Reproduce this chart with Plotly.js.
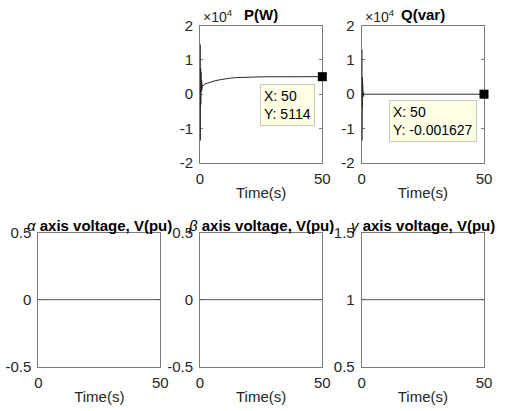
<!DOCTYPE html>
<html>
<head>
<meta charset="utf-8">
<script src="https://cdn.plot.ly/plotly-3.0.1.min.js"></script>
<style>html,body{margin:0;padding:0;background:#fff;}#chart{width:510px;height:411px;}</style>
</head>
<body>
<div id="chart"></div>
<script>
// ---- data ----
const timeP = [0,0.04,0.08,0.12,0.16,0.2,0.24,0.28,0.32,0.36,0.4,0.44,0.48,0.52,0.56,0.6,0.64,0.68,0.72,0.76,0.8,0.84,0.88,0.92,0.96,1.0,1.1,1.4,2,3,4,5,6,8,10,12,15,18,20,25,30,35,40,45,50];
const powerP = [0,14500,-13500,11000,-8500,9000,-5500,7500,-3000,6500,-1500,5500,-500,5000,200,4500,800,4000,1300,3600,1700,3200,2000,3000,2200,2700,2500,2750,2950,3200,3450,3700,3900,4200,4450,4650,4850,4960,5010,5070,5095,5106,5111,5113,5114];
const timeQ = [0,0.04,0.08,0.12,0.16,0.2,0.24,0.28,0.32,0.36,0.4,0.44,0.48,0.52,0.56,0.6,0.64,0.68,0.72,0.76,0.8,0.84,0.88,0.92,0.96,1.0,2,10,20,30,40,50];
const powerQ = [0,13000,-13500,10000,-9000,7000,-6000,5000,-4000,3500,-2800,2200,-1800,1400,-1100,900,-700,500,-400,300,-200,150,-100,60,-30,10,0,0,0,0,0,-0.001627];
const timeV = [0,6,6.5,7,7.5,50];
const vAlpha = [0,0,0.004,0.004,0,0];
const vBeta = [0,0,0,0,0,0];
const vGamma = [1,1,1.004,1.004,1,1];
const tipP = {x: 50, y: 5114};
const tipQ = {x: 50, y: -0.001627};
const pTicks = [-20000,-10000,0,10000,20000];
const pTickText = ["-2","-1","0","1","2"];
const xTicks = [0,50];
const xTickText = ["0","50"];
const abTicks = [-0.5,0,0.5];
const abTickText = ["-0.5","0","0.5"];
const gTicks = [0.5,1,1.5];
const gTickText = ["0.5","1","1.5"];

// ---- layout helpers ----
const W = 510, H = 411;
const px = v => v / W;
const py = v => 1 - v / H;
const cols = [[38.3,160.3],[200,322.3],[361.7,484]];
const rowTop = [25.7,162.7], rowBot = [232.7,366.7];
const fontFam = 'Liberation Sans, Arial, Helvetica, sans-serif';
const axisCol = '#7a7a7a', textCol = '#262626';

function xax(col, row, anchor) {
  return {
    anchor: anchor, layer: 'below traces',
    domain: [px(cols[col][0]), px(cols[col][1])],
    range: [0, 50], tickvals: xTicks, ticktext: xTickText,
    showline: true, mirror: 'ticks', linecolor: axisCol, linewidth: 1,
    ticks: 'inside', ticklen: 3, tickcolor: axisCol,
    showgrid: false, zeroline: false, fixedrange: true,
    tickfont: {family: fontFam, size: 15, color: textCol},
    ticklabelstandoff: 2,
    title: {text: 'Time(s)', font: {family: fontFam, size: 15, color: textCol}, standoff: 1},
    automargin: false
  };
}
function yax(col, row, range, vals, text, anchor) {
  const r = row === 0 ? rowTop : rowBot;
  return {
    anchor: anchor, layer: 'below traces',
    domain: [py(r[1]), py(r[0])],
    range: range, tickvals: vals, ticktext: text,
    showline: true, mirror: 'ticks', linecolor: axisCol, linewidth: 1,
    ticks: 'inside', ticklen: 3, tickcolor: axisCol,
    showgrid: false, zeroline: false, fixedrange: true,
    tickfont: {family: fontFam, size: 15, color: textCol},
    ticklabelstandoff: 3,
    automargin: false
  };
}

const lineP = {color: '#2a2a2a', width: 1};
const lineV = {color: '#555555', width: 1};
const data = [
  {x: timeP, y: powerP, xaxis: 'x', yaxis: 'y', mode: 'lines', line: lineP, hoverinfo: 'skip'},
  {x: [tipP.x], y: [tipP.y], xaxis: 'x', yaxis: 'y', mode: 'markers', marker: {symbol: 'square', size: 9, color: '#000'}, hoverinfo: 'skip', cliponaxis: false},
  {x: timeQ, y: powerQ, xaxis: 'x2', yaxis: 'y2', mode: 'lines', line: lineP, hoverinfo: 'skip'},
  {x: [tipQ.x], y: [tipQ.y], xaxis: 'x2', yaxis: 'y2', mode: 'markers', marker: {symbol: 'square', size: 9, color: '#000'}, hoverinfo: 'skip', cliponaxis: false},
  {x: timeV, y: vAlpha, xaxis: 'x3', yaxis: 'y3', mode: 'lines', line: lineV, hoverinfo: 'skip'},
  {x: timeV, y: vBeta, xaxis: 'x4', yaxis: 'y4', mode: 'lines', line: lineV, hoverinfo: 'skip'},
  {x: timeV, y: vGamma, xaxis: 'x5', yaxis: 'y5', mode: 'lines', line: lineV, hoverinfo: 'skip'}
];

const titleFont = {family: fontFam, size: 15, color: '#000'};
function titleAnn(col, yPix, text) {
  return {xref: 'paper', yref: 'paper', x: px((cols[col][0] + cols[col][1]) / 2), y: py(yPix),
          xanchor: 'center', yanchor: 'middle', showarrow: false, text: text, font: titleFont};
}
function expAnn(col) {
  return {xref: 'paper', yref: 'paper', x: px(cols[col][0] + 1), y: py(16), xanchor: 'left', yanchor: 'middle',
          showarrow: false, text: '×10<sup>4</sup>', font: {family: fontFam, size: 14, color: textCol}};
}
function tipAnn(xr, yr, pt, xs, ys) {
  return {xref: xr, yref: yr, x: pt.x, y: pt.y, xanchor: 'right', yanchor: 'top', align: 'left',
          showarrow: false, xshift: xs, yshift: ys,
          text: 'X: ' + pt.x + '<br>Y: ' + pt.y, font: {family: fontFam, size: 14, color: '#000'},
          bgcolor: '#ffffe6', bordercolor: '#c8c8b4', borderwidth: 1, borderpad: 3};
}

const layout = {
  width: W, height: H, margin: {l: 0, r: 0, t: 0, b: 0},
  paper_bgcolor: '#fff', plot_bgcolor: '#fff', showlegend: false,
  xaxis: xax(1, 0, 'y'), yaxis: yax(1, 0, [-20000, 20000], pTicks, pTickText, 'x'),
  xaxis2: xax(2, 0, 'y2'), yaxis2: yax(2, 0, [-20000, 20000], pTicks, pTickText, 'x2'),
  xaxis3: xax(0, 1, 'y3'), yaxis3: yax(0, 1, [-0.5, 0.5], abTicks, abTickText, 'x3'),
  xaxis4: xax(1, 1, 'y4'), yaxis4: yax(1, 1, [-0.5, 0.5], abTicks, abTickText, 'x4'),
  xaxis5: xax(2, 1, 'y5'), yaxis5: yax(2, 1, [0.5, 1.5], gTicks, gTickText, 'x5'),
  annotations: [
    titleAnn(1, 15, '<b>P(W)</b>'),
    titleAnn(2, 15, '<b>Q(var)</b>'),
    expAnn(1), expAnn(2),
    titleAnn(0, 225, '<i>α</i> <b>axis voltage, V(pu)</b>'),
    titleAnn(1, 225, '<i>β</i> <b>axis voltage, V(pu)</b>'),
    titleAnn(2, 225, '<i>γ</i> <b>axis voltage, V(pu)</b>'),
    tipAnn('x', 'y', tipP, -7, -7),
    tipAnn('x2', 'y2', tipQ, -7, -6)
  ]
};

Plotly.newPlot('chart', data, layout, {staticPlot: true, displayModeBar: false});
</script>
</body>
</html>
